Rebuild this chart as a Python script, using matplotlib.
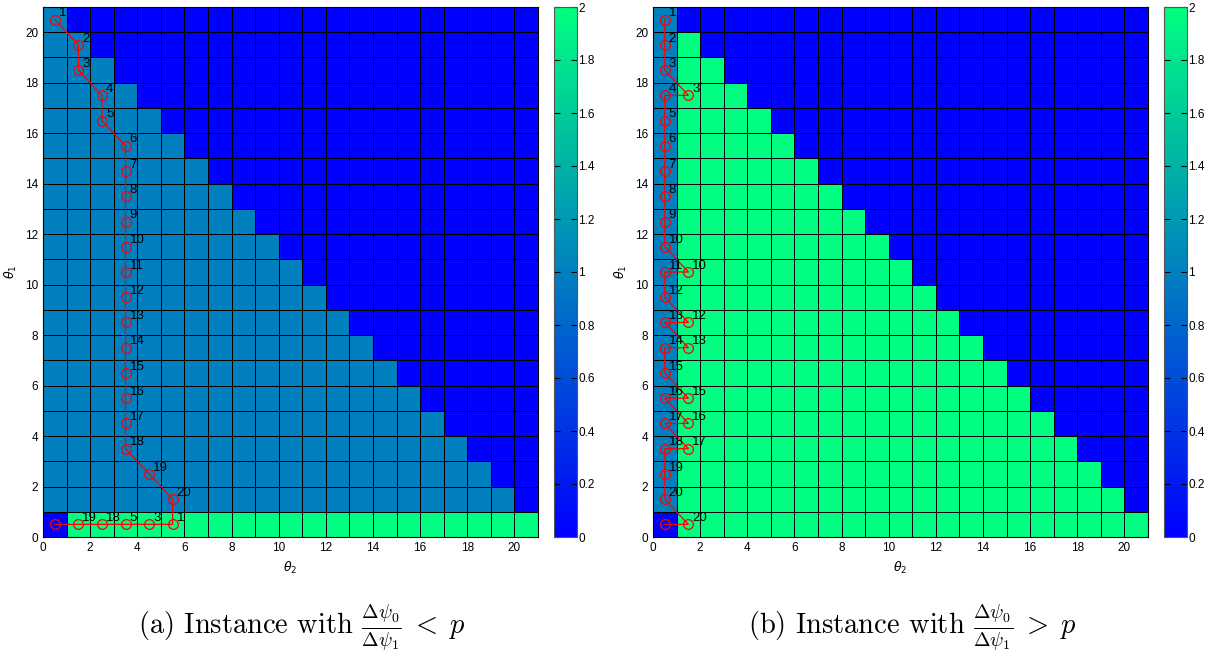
import numpy as np
import matplotlib
matplotlib.use("Agg")
import matplotlib.pyplot as plt
from matplotlib.ticker import FormatStrFormatter

# Grid values (rows listed top = theta1 row 20 down to row 0), one char per theta2 column 0..20
grid_a_rows = [
    "100000000000000000000",
    "110000000000000000000",
    "111000000000000000000",
    "111100000000000000000",
    "111110000000000000000",
    "111111000000000000000",
    "111111100000000000000",
    "111111110000000000000",
    "111111111000000000000",
    "111111111100000000000",
    "111111111110000000000",
    "111111111111000000000",
    "111111111111100000000",
    "111111111111110000000",
    "111111111111111000000",
    "111111111111111100000",
    "111111111111111110000",
    "111111111111111111000",
    "111111111111111111100",
    "111111111111111111110",
    "022222222222222222222",
]
grid_b_rows = [
    "100000000000000000000",
    "120000000000000000000",
    "122000000000000000000",
    "122200000000000000000",
    "122220000000000000000",
    "122222000000000000000",
    "122222200000000000000",
    "122222220000000000000",
    "122222222000000000000",
    "122222222200000000000",
    "122222222220000000000",
    "122222222222000000000",
    "122222222222200000000",
    "122222222222220000000",
    "122222222222222000000",
    "122222222222222200000",
    "122222222222222220000",
    "122222222222222222000",
    "122222222222222222200",
    "122222222222222222220",
    "022222222222222222222",
]

# Paths (theta2, theta1) and labels
path_a_x = [0.5, 1.5, 1.5, 2.5, 2.5, 3.5, 3.5, 3.5, 3.5, 3.5, 3.5, 3.5, 3.5, 3.5, 3.5, 3.5, 3.5, 3.5, 4.5, 5.5,
            5.5, 4.5, 3.5, 2.5, 1.5, 0.5]
path_a_y = [20.5, 19.5, 18.5, 17.5, 16.5, 15.5, 14.5, 13.5, 12.5, 11.5, 10.5, 9.5, 8.5, 7.5, 6.5, 5.5, 4.5, 3.5, 2.5, 1.5,
            0.5, 0.5, 0.5, 0.5, 0.5, 0.5]
path_a_lab = ["1", "2", "3", "4", "5", "6", "7", "8", "9", "10", "11", "12", "13", "14", "15", "16", "17", "18", "19", "20",
              "1", "3", "5", "18", "19", ""]

path_b_x = [0.5, 0.5, 0.5, 1.5, 0.5, 0.5, 0.5, 0.5, 0.5, 0.5, 0.5, 1.5, 0.5, 0.5, 1.5, 0.5, 1.5, 0.5, 0.5,
            1.5, 0.5, 1.5, 0.5, 1.5, 0.5, 0.5, 0.5, 1.5, 0.5]
path_b_y = [20.5, 19.5, 18.5, 17.5, 17.5, 16.5, 15.5, 14.5, 13.5, 12.5, 11.5, 10.5, 10.5, 9.5, 8.5, 8.5, 7.5, 7.5, 6.5,
            5.5, 5.5, 4.5, 4.5, 3.5, 3.5, 2.5, 1.5, 0.5, 0.5]
path_b_lab = ["1", "2", "3", "3", "4", "5", "6", "7", "8", "9", "10", "10", "11", "12", "12", "13", "13", "14", "15",
              "15", "16", "16", "17", "17", "18", "19", "20", "20", ""]

captions = [r"(a) Instance with $\frac{\Delta\psi_0}{\Delta\psi_1}\;<\;p$",
            r"(b) Instance with $\frac{\Delta\psi_0}{\Delta\psi_1}\;>\;p$"]

plt.rcParams["font.family"] = ["Liberation Sans", "DejaVu Sans"]
plt.rcParams["mathtext.fontset"] = "dejavusans"

W, H = 1215, 658
fig = plt.figure(figsize=(W / 100, H / 100), dpi=100)

def fr(x0, y0, w, h):
    return [x0 / W, 1 - (y0 + h) / H, w / W, h / H]

panels = [
    (grid_a_rows, path_a_x, path_a_y, path_a_lab, 43, 554, 302),
    (grid_b_rows, path_b_x, path_b_y, path_b_lab, 653, 1164, 912),
]

for k, (rows, px, py, plab, axx, cbx, capx) in enumerate(panels):
    Z = np.array([[int(c) for c in r] for r in rows[::-1]], dtype=float)
    ax = fig.add_axes(fr(axx, 7, 495, 530))
    n = Z.shape[0]
    edges = np.arange(n + 1)
    m = ax.pcolormesh(edges, edges, Z, cmap="winter", vmin=0, vmax=2,
                      edgecolors="k", linewidth=0.55)
    ax.plot(px, py, color="red", lw=0.9, marker="o", markersize=7,
            markerfacecolor="none", markeredgecolor="red", markeredgewidth=0.9)
    for x, y, t in zip(px, py, plab):
        if t:
            ax.text(x + 0.17, y + 0.25, t, fontsize=9.5, ha="left", va="center", color="black")
    ax.set_xlim(0, 21)
    ax.set_ylim(0, 21)
    ax.set_xticks(np.arange(0, 21, 2))
    ax.set_yticks(np.arange(0, 21, 2))
    ax.tick_params(labelsize=8.5, direction="in", length=0, top=False, right=False)
    ax.set_xlabel(r"$\theta_2$", fontsize=9, labelpad=4)
    ax.set_ylabel(r"$\theta_1$", fontsize=9, labelpad=4)
    for s in ax.spines.values():
        s.set_linewidth(0.8)

    cax = fig.add_axes(fr(cbx, 7, 23, 530))
    cb = fig.colorbar(m, cax=cax, ticks=np.arange(0, 2.01, 0.2))
    cb.ax.yaxis.set_major_formatter(FormatStrFormatter("%g"))
    cax.tick_params(which="both", direction="in", left=True, right=True, length=4,
                    labelsize=8.5, width=0.8, pad=1)
    cb.outline.set_linewidth(0.8)
    cb.outline.set_edgecolor("#555555")

    fig.text(capx / W, 1 - 628 / H, captions[k], fontsize=20.5, ha="center", va="center",
             family="cmr10", math_fontfamily="cm")

fig.savefig("out.png", dpi=100)
